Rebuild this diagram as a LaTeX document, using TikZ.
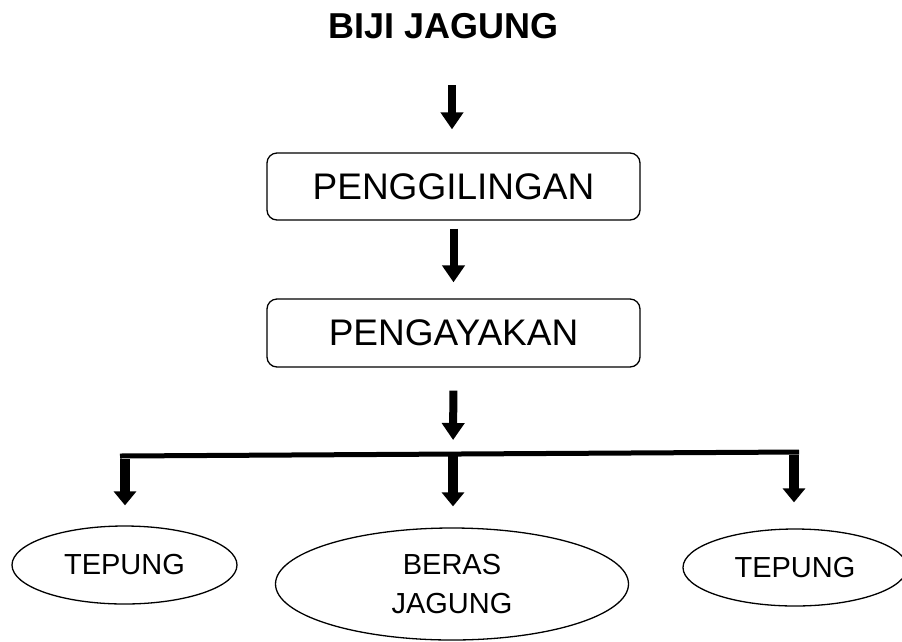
\documentclass[tikz,border=0pt]{standalone}
\usepackage{fontspec}
\setmainfont{Liberation Sans}
\usetikzlibrary{arrows.meta,shapes.geometric}
\begin{document}
\begin{tikzpicture}[x=1pt,y=-1pt,
  bigarrow/.style={line width=8pt,-{Triangle[width=22pt,length=17pt]}},
  smallarrow/.style={line width=10pt,-{Triangle[width=22pt,length=14pt]}},
  procbox/.style={draw,line width=1.3pt,rounded corners=10pt,minimum width=373pt,minimum height=67pt,inner sep=0pt,font=\fontsize{37}{44}\selectfont},
  outoval/.style={draw,ellipse,line width=1.3pt,inner sep=0pt,align=center,font=\fontsize{29}{39}\selectfont},
  bar/.style={line width=5pt}]
\useasboundingbox (0,0) rectangle (902,641);
\clip (0,0) rectangle (902,641);
\node[font=\bfseries\fontsize{36}{42}\selectfont,inner sep=0pt] (title) at (443.5,26) {BIJI JAGUNG};
\node[procbox] (b1) at (453.5,186.5) {PENGGILINGAN};
\node[procbox,minimum height=68pt] (b2) at (453.5,333) {PENGAYAKAN};
\node[outoval,minimum width=225pt,minimum height=78pt] (o1) at (124.5,565) {TEPUNG};
\node[outoval,minimum width=353pt,minimum height=112pt] (o2) at (452,584) {BERAS\\JAGUNG};
\node[outoval,minimum width=224pt,minimum height=77pt] (o3) at (795,567.5) {TEPUNG};
\coordinate (c0) at (452,85);
\coordinate (cm) at (453,455);
\coordinate (cl) at (125,456);
\coordinate (cr) at (794,452);
\coordinate (barL) at (120,456);
\coordinate (barR) at (799,452);
\draw[bigarrow,shorten >=23pt] (c0) -- (c0 |- b1.north);
\draw[bigarrow,shorten <=8pt,shorten >=16pt] (b1.south) -- (b2.north);
\draw[bigarrow,shorten <=23pt,shorten >=15pt] (b2.south) -- (cm);
\draw[bar] (barL) -- (barR);
\draw[smallarrow,shorten >=20pt] ([yshift=-3pt]cl) -- (cl |- o1.north);
\draw[smallarrow,shorten >=21pt] (cm) -- (cm |- o2.north);
\draw[smallarrow,shorten >=26pt] ([yshift=-3pt]cr) -- (cr |- o3.north);
\end{tikzpicture}
\end{document}
